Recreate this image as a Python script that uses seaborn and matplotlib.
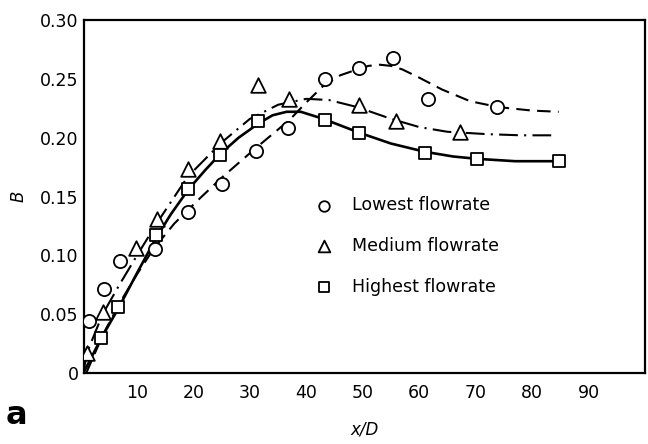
import matplotlib
matplotlib.use("Agg")
import matplotlib.pyplot as plt
import seaborn as sns
import pandas as pd

# Measured points
low_x = [1.4, 4.2, 7.0, 13.2, 19.0, 25.0, 31.1, 36.8, 43.3, 49.3, 55.3, 61.5, 73.7]
low_y = [0.044, 0.071, 0.095, 0.105, 0.137, 0.161, 0.189, 0.208, 0.250, 0.259, 0.268, 0.233, 0.226]
med_x = [1.1, 3.9, 9.9, 13.6, 19.1, 24.7, 31.5, 37.0, 49.3, 55.8, 67.3]
med_y = [0.017, 0.052, 0.106, 0.131, 0.173, 0.197, 0.245, 0.233, 0.228, 0.214, 0.205]
high_x = [3.7, 6.7, 13.4, 19.1, 24.7, 31.5, 43.3, 49.3, 61.0, 70.3, 84.7]
high_y = [0.030, 0.056, 0.117, 0.156, 0.185, 0.214, 0.215, 0.204, 0.187, 0.182, 0.180]

# Fitted curves
low_cx = [1.0, 4.0, 7.0, 10.0, 13.0, 16.6, 20.6, 25.0, 31.0, 37.0, 40.0, 43.0, 46.0, 49.0, 51.0, 53.0, 55.0, 57.0, 60.0, 64.0, 69.0, 74.0, 80.0, 84.7]
low_cy = [0.000, 0.033, 0.060, 0.084, 0.106, 0.127, 0.146, 0.166, 0.191, 0.215, 0.230, 0.244, 0.253, 0.258, 0.261, 0.262, 0.261, 0.258, 0.251, 0.241, 0.231, 0.226, 0.223, 0.222]
med_cx = [0.5, 1.1, 3.9, 7.0, 10.0, 13.6, 19.0, 25.0, 30.0, 35.0, 40.0, 44.0, 49.0, 55.0, 60.0, 65.0, 72.0, 78.0, 83.6]
med_cy = [0.000, 0.017, 0.050, 0.076, 0.100, 0.128, 0.167, 0.196, 0.216, 0.228, 0.233, 0.232, 0.226, 0.216, 0.209, 0.205, 0.203, 0.202, 0.202]
high_cx = [0.5, 3.7, 6.7, 10.0, 13.4, 16.0, 19.1, 22.0, 24.7, 28.0, 31.5, 34.0, 36.5, 39.0, 43.0, 49.5, 55.0, 61.0, 66.0, 70.3, 77.0, 84.7]
high_cy = [0.000, 0.030, 0.055, 0.085, 0.115, 0.135, 0.156, 0.172, 0.186, 0.200, 0.212, 0.219, 0.222, 0.222, 0.216, 0.204, 0.195, 0.188, 0.184, 0.182, 0.180, 0.180]

labels = ["Lowest flowrate", "Medium flowrate", "Highest flowrate"]
x_ticks = [10, 20, 30, 40, 50, 60, 70, 80, 90]
y_ticks = [0, 0.05, 0.10, 0.15, 0.20, 0.25, 0.30]
y_ticklabels = ["0", "0.05", "0.10", "0.15", "0.20", "0.25", "0.30"]

sns.set_style("white")
plt.rcParams['font.family'] = ['DejaVu Sans']
plt.rcParams['text.color'] = 'black'
plt.rcParams['axes.labelcolor'] = 'black'

fig = plt.figure(figsize=(6.48, 4.44), dpi=100)
ax = fig.add_axes([84/648, 1-373/444, (645-84)/648, (373-20)/444])

curves = [
    (low_cx, low_cy, (6.5, 3.5)),
    (med_cx, med_cy, (9, 3, 1, 3)),
    (high_cx, high_cy, None),
]
for cx, cy, dash in curves:
    df = pd.DataFrame({"x": cx, "y": cy})
    sns.lineplot(data=df, x="x", y="y", ax=ax, color="black", sort=False,
                 linewidth=1.9 if dash is None else 1.5, estimator=None)
    if dash is not None:
        ax.lines[-1].set_dashes(dash)

pts = [
    (low_x, low_y, "o", 9.5),
    (med_x, med_y, "^", 10.5),
    (high_x, high_y, "s", 9.0),
]
for (px, py, m, s), lab in zip(pts, labels):
    df = pd.DataFrame({"x": px, "y": py})
    sns.scatterplot(data=df, x="x", y="y", ax=ax, marker=m, s=s**2,
                    facecolor="white", edgecolor="black", linewidth=1.3,
                    label=lab, zorder=3)

ax.set_xlim(0.6, 100)
ax.set_ylim(0, 0.30)
ax.set_xticks(x_ticks)
ax.set_xticklabels([str(t) for t in x_ticks])
ax.set_yticks(y_ticks)
ax.set_yticklabels(y_ticklabels)
ax.tick_params(direction="in", length=11.5, width=1.2, labelsize=12.5, colors="black")
ax.tick_params(axis="x", pad=8)
ax.tick_params(axis="y", pad=4)
for sp in ax.spines.values():
    sp.set_visible(True)
    sp.set_color("black")
    sp.set_linewidth(1.6)

ax.set_xlabel("x/D", fontsize=12, fontstyle="italic", labelpad=13)
ax.set_ylabel("B", fontsize=12, fontstyle="italic", labelpad=9)

leg = ax.legend(loc="upper left", bbox_to_anchor=(0.4, 0.52), frameon=False,
                fontsize=12.5, labelspacing=1.3, handletextpad=1.1,
                borderaxespad=0, handlelength=1.0, markerscale=0.8)
for t in leg.get_texts():
    t.set_color("black")

fig.text(0.008, 0.045, "a", fontsize=23, fontweight="bold", color="black")

fig.savefig("out.png", dpi=100)
